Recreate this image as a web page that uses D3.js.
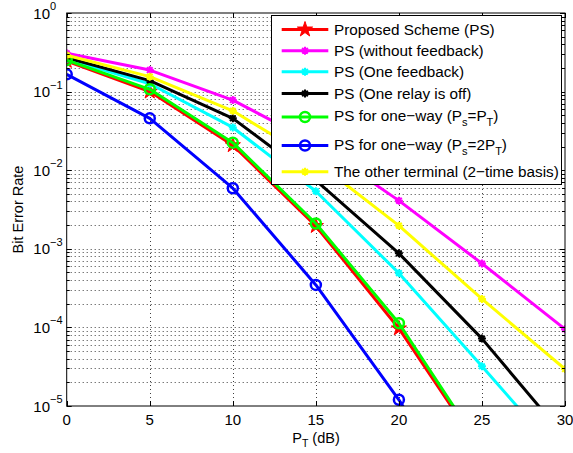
<!DOCTYPE html>
<html><head><meta charset="utf-8">
<script src="https://cdn.jsdelivr.net/npm/d3@7"></script>
<style>body{margin:0;background:#fff}svg{display:block;font-family:"Liberation Sans",Arial,sans-serif}</style>
</head><body>
<svg id="c" width="573" height="453"></svg>
<script>
const snr = [0, 5, 10, 15, 20, 25, 30];
const berPS          = [0.245, 0.100, 0.0208, 0.00195, 9.7e-5, 2.6e-6, null];
const berNoFeedback  = [0.307, 0.188, 0.078, 0.0218, 0.0041, 6.5e-4, 9.5e-5];
const berOneFeedback = [0.26, 0.126, 0.035, 0.0054, 4.9e-4, 3.2e-5, 2.0e-6];
const berRelayOff    = [0.27, 0.138, 0.0457, 0.0074, 8.75e-4, 7.2e-5, 4.0e-6];
const berOneWay      = [0.252, 0.107, 0.0224, 0.0021, 1.13e-4, 2.8e-6, null];
const berOneWay2     = [0.166, 0.0457, 0.0059, 3.47e-4, 1.2e-5, 2.4e-7, null];
const berOther       = [0.29, 0.155, 0.057, 0.013, 0.00197, 2.3e-4, 2.95e-5];
const xTicks = [0, 5, 10, 15, 20, 25, 30];
const yTickExps = [0, -1, -2, -3, -4, -5];

const series = [
  {name: "Proposed Scheme (PS)", values: berPS, color: "#ff0000", marker: "star"},
  {name: "PS (without feedback)", values: berNoFeedback, color: "#ff00ff", marker: "ast"},
  {name: "PS (One feedback)", values: berOneFeedback, color: "#00ffff", marker: "ast"},
  {name: "PS (One relay is off)", values: berRelayOff, color: "#000000", marker: "ast"},
  {name: ["PS for one\u2212way (P", "s", "=P", "T", ")"], values: berOneWay, color: "#00ff00", marker: "circle"},
  {name: ["PS for one\u2212way (P", "s", "=2P", "T", ")"], values: berOneWay2, color: "#0000ff", marker: "circle"},
  {name: "The other terminal (2\u2212time basis)", values: berOther, color: "#ffff00", marker: "ast"}
];

const svg = d3.select("#c");
const L = 66.7, R = 565, T = 13, B = 406;
const x = d3.scaleLinear().domain([0, 30]).range([L, R]);
const y = d3.scaleLog().domain([1e-5, 1]).range([B, T]);

// grid
const grid = svg.append("g").attr("stroke", "#000").attr("stroke-width", 1)
  .attr("stroke-dasharray", "1,3").attr("opacity", 0.75);
const minorVals = [];
for (let e = -5; e < 0; e++) for (let m = 1; m <= 9; m++) minorVals.push(m * Math.pow(10, e));
minorVals.slice(1).forEach(v => {
  const yy = Math.round(y(v)) + 0.5;
  grid.append("line").attr("x1", L).attr("x2", R).attr("y1", yy).attr("y2", yy);
});
xTicks.slice(1, -1).forEach(t => {
  const xx = Math.round(x(t)) + 0.5;
  grid.append("line").attr("x1", xx).attr("x2", xx).attr("y1", T).attr("y2", B);
});

// clip
svg.append("clipPath").attr("id", "clip").append("rect")
  .attr("x", L).attr("y", T).attr("width", R - L).attr("height", B - T);

function starPath(r) {
  const ri = r * 0.382; let p = "";
  for (let i = 0; i < 10; i++) {
    const a = -Math.PI / 2 + i * Math.PI / 5, rr = i % 2 ? ri : r;
    p += (i ? "L" : "M") + (rr * Math.cos(a)).toFixed(2) + "," + (rr * Math.sin(a)).toFixed(2);
  }
  return p + "Z";
}
function astPath(s) {
  const d = s * 0.707;
  return `M${-s},0L${s},0M0,${-s}L0,${s}M${-d},${-d}L${d},${d}M${-d},${d}L${d},${-d}`;
}
function drawMarker(g, type, color, cx, cy) {
  if (type === "star") {
    g.append("path").attr("d", starPath(8)).attr("transform", `translate(${cx},${cy})`)
      .attr("fill", color).attr("stroke", color).attr("stroke-width", 1);
  } else if (type === "circle") {
    g.append("circle").attr("cx", cx).attr("cy", cy).attr("r", 5)
      .attr("fill", "none").attr("stroke", color).attr("stroke-width", 2.5);
  } else {
    g.append("path").attr("d", astPath(4)).attr("transform", `translate(${cx},${cy})`)
      .attr("fill", "none").attr("stroke", color).attr("stroke-width", 2);
  }
}

const plot = svg.append("g").attr("clip-path", "url(#clip)");
const line = d3.line().defined(d => d[1] != null).x(d => x(d[0])).y(d => y(d[1]));
series.forEach(s => {
  const pts = snr.map((v, i) => [v, s.values[i]]);
  plot.append("path").datum(pts).attr("d", line).attr("fill", "none")
    .attr("stroke", s.color).attr("stroke-width", 3).attr("stroke-linejoin", "round");
  pts.filter(d => d[1] != null).forEach(d => drawMarker(plot, s.marker, s.color, x(d[0]), y(d[1])));
});

// frame and ticks
const ax = svg.append("g").attr("stroke", "#000").attr("stroke-width", 1);
ax.append("rect").attr("x", L).attr("y", T).attr("width", R - L).attr("height", B - T).attr("fill", "none");
xTicks.forEach(t => {
  const xx = Math.round(x(t)) + 0.5;
  ax.append("line").attr("x1", xx).attr("x2", xx).attr("y1", B).attr("y2", B - 5);
  ax.append("line").attr("x1", xx).attr("x2", xx).attr("y1", T).attr("y2", T + 5);
});
minorVals.forEach((v, i) => {
  const yy = Math.round(y(v)) + 0.5;
  const len = (i % 9 === 0) ? 5 : 3;
  ax.append("line").attr("x1", L).attr("x2", L + len).attr("y1", yy).attr("y2", yy);
  ax.append("line").attr("x1", R).attr("x2", R - len).attr("y1", yy).attr("y2", yy);
});
ax.append("line").attr("x1", L).attr("x2", L + 5).attr("y1", T + 0.5).attr("y2", T + 0.5);
ax.append("line").attr("x1", R).attr("x2", R - 5).attr("y1", T + 0.5).attr("y2", T + 0.5);

// tick labels
const tl = svg.append("g").attr("fill", "#000");
xTicks.forEach(t => {
  tl.append("text").attr("x", x(t)).attr("y", 425).attr("text-anchor", "middle")
    .attr("font-size", 15).text(t);
});
yTickExps.forEach(e => {
  const yy = y(Math.pow(10, e));
  tl.append("text").attr("x", 50).attr("y", yy + 5.5).attr("text-anchor", "end")
    .attr("font-size", 15).text("10");
  tl.append("text").attr("x", 50).attr("y", yy - 3).attr("text-anchor", "start")
    .attr("font-size", 11).text(e === 0 ? "0" : "\u2212" + (-e));
});

// axis labels
svg.append("text").attr("transform", `translate(23,${(T + B) / 2}) rotate(-90)`)
  .attr("text-anchor", "middle").attr("font-size", 14.5).text("Bit Error Rate");
const xl = svg.append("text").attr("x", 316).attr("y", 443).attr("text-anchor", "middle").attr("font-size", 14.5);
xl.append("tspan").text("P");
xl.append("tspan").attr("font-size", 10.5).attr("dy", 4).text("T");
xl.append("tspan").attr("dy", -4).text(" (dB)");

// legend
const lg = svg.append("g");
lg.append("rect").attr("x", 271.5).attr("y", 15.5).attr("width", 290).attr("height", 169)
  .attr("fill", "#fff").attr("stroke", "#000").attr("stroke-width", 1);
const rowY = [29.5, 50.7, 71.7, 93.5, 117, 145.5, 171.7];
series.forEach((s, i) => {
  const yy = rowY[i];
  lg.append("line").attr("x1", 281.7).attr("x2", 328.3).attr("y1", yy).attr("y2", yy)
    .attr("stroke", s.color).attr("stroke-width", 3);
  drawMarker(lg, s.marker, s.color, 305, yy);
  const t = lg.append("text").attr("x", 334).attr("y", (Array.isArray(s.name) ? yy - 1.5 : yy) + 5.5)
    .attr("font-size", 15.3).attr("fill", "#000");
  if (Array.isArray(s.name)) {
    t.append("tspan").text(s.name[0]);
    t.append("tspan").attr("font-size", 11).attr("dy", 5).text(s.name[1]);
    t.append("tspan").attr("dy", -5).text(s.name[2]);
    t.append("tspan").attr("font-size", 11).attr("dy", 5).text(s.name[3]);
    t.append("tspan").attr("dy", -5).text(s.name[4]);
  } else {
    t.text(s.name);
  }
});
</script>
</body></html>
